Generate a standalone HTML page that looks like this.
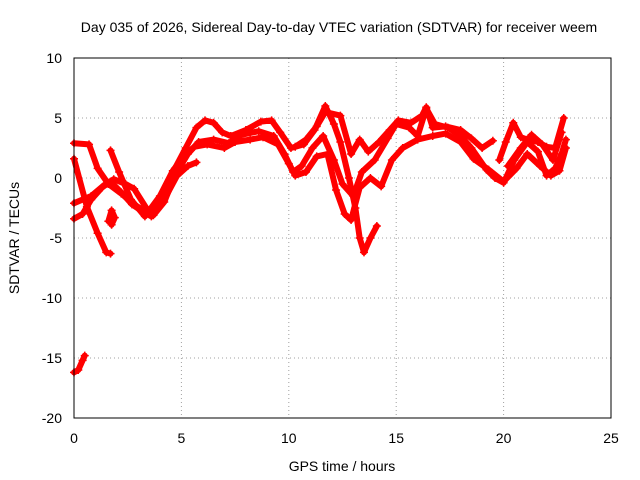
<!DOCTYPE html>
<html><head><meta charset="utf-8"><style>
body{margin:0;background:#fff}
svg{display:block;font-family:"Liberation Sans",sans-serif}
</style></head><body>
<svg id="chart" width="640" height="480">
<rect width="640" height="480" fill="#fff"/>
<text x="339" y="32" font-size="14" text-anchor="middle">Day 035 of 2026, Sidereal Day-to-day VTEC variation (SDTVAR) for receiver weem</text>
<text x="342" y="471" font-size="14" text-anchor="middle">GPS time / hours</text>
<text transform="translate(19,238) rotate(-90)" font-size="14" text-anchor="middle">SDTVAR / TECUs</text>
<g id="grid"></g><g id="ticks"></g><g id="marks"></g>
<rect x="74" y="58" width="537" height="360" fill="none" stroke="#000" stroke-width="1"/>
</svg>
<script>
const xTicks=[0,5,10,15,20,25];
const yTicks=[10,5,0,-5,-10,-15,-20];
const trace1=[[0,2.9],[0.7,2.8],[1.1,0.8],[1.6,-0.5],[2.2,-1.3],[2.8,-2.2],[3.5,-3.0],[4.2,-1.5],[4.7,0.8],[5.2,2.5],[5.7,4.2],[6.1,4.8],[6.5,4.6],[6.9,3.8],[7.3,3.5],[8.0,4.0],[8.7,4.7],[9.2,4.8],[9.6,3.8],[10.1,2.5],[10.7,2.8],[11.2,4.0],[11.7,6.0],[12.1,4.5],[12.4,3],[12.8,0],[13.1,-2.5],[13.3,-5],[13.5,-6.2],[13.8,-5],[14.1,-4]];
const trace2=[[0,1.6],[0.6,-2.4],[1.1,-4.6],[1.5,-6.2],[1.7,-6.3]];
const trace3=[[0,-2.1],[0.8,-1.5],[1.4,-0.6],[1.85,-0.1],[2.4,-0.5],[2.8,-0.9],[3.4,-2.6],[3.7,-3.1],[4.2,-2],[4.7,0.2],[5.3,2.0],[5.8,3.0],[6.5,3.2],[7.2,2.9],[7.8,3.6],[8.6,3.9],[9.3,3.5],[9.8,2],[10.2,0.5],[10.6,1],[11.1,2.5],[11.6,3.5],[12.1,1.5],[12.5,-0.5],[13,-1.5],[13.4,0.5],[14,1.5],[14.6,3.3],[15,4.5],[15.6,4.2],[16,3.5],[16.4,5.8],[16.8,4.5],[17.4,4.2],[18,3.5],[18.5,2.5],[19.2,0.7],[19.6,0],[20,-0.4],[20.5,1.5],[21.1,3.0],[21.6,2.2],[22,0.2],[22.4,0.8],[22.7,2],[22.9,3.2]];
const trace4=[[0,-3.4],[0.4,-3.0],[0.8,-1.8],[1.3,-0.8],[1.7,-0.3],[2.2,-1.2],[2.7,-2.2],[3.2,-2.8],[3.6,-3.2],[4.2,-1.8],[4.8,0.2],[5.3,1.0],[5.7,1.3]];
const trace5=[[1.7,2.3],[2.1,0.5],[2.65,-1.8],[3.3,-3.2],[4,-1.5],[4.6,0.6],[5.1,1.8],[5.6,2.6],[6.2,2.8],[7,2.5],[7.5,3.0],[8.2,3.2],[8.8,3.4],[9.5,2.8],[10,1.2],[10.3,0.2],[10.8,0.5],[11.3,1.8],[11.8,2],[12.2,-1],[12.6,-3],[12.9,-3.5],[13.3,-0.8],[13.8,0],[14.3,-0.7],[14.8,1.5],[15.3,2.5],[16,3.2],[16.7,3.5],[17.3,3.7],[18,3.0],[18.6,1.6],[19.3,0.7],[20,-0.3],[20.6,0.8],[21.1,2],[21.7,1.0],[22.2,0.2],[22.6,0.6],[22.9,2.5]];
const trace6=[[10.3,2.6],[10.8,3.2],[11.3,4.3],[11.7,5.5],[12.4,5.2],[12.9,2],[13.3,3.2],[13.7,2.2],[14.2,3],[14.7,4],[15.1,4.8],[15.7,4.6],[16.2,5.2],[16.4,5.9],[16.7,4.2],[17.3,4.3],[18,4],[18.5,3.3],[19,2.5],[19.5,3.1]];
const trace7=[[19.8,1.5],[20.1,3],[20.45,4.6],[20.8,3.4],[21.1,3.2],[21.6,3],[22,2.6],[22.4,2.5],[22.8,5]];
const trace8=[[20.2,1.0],[20.8,2.5],[21.3,3.6],[21.8,2.8],[22.3,1.5],[22.7,3.8]];
const trace9=[[0,-16.2],[0.2,-16],[0.4,-15.2],[0.5,-14.8]];
const trace10=[[1.6,-3.6],[1.75,-2.7],[1.9,-3.3],[1.75,-3.9]];
const traces=[trace1,trace2,trace3,trace4,trace5,trace6,trace7,trace8,trace9,trace10];
const NS="http://www.w3.org/2000/svg";
const X=v=>74+v*537/25, Y=v=>178-v*12;
const grid=document.getElementById('grid'),ticks=document.getElementById('ticks'),marks=document.getElementById('marks');
function mk(tag,attrs,parent){const e=document.createElementNS(NS,tag);for(const k in attrs)e.setAttribute(k,attrs[k]);parent.appendChild(e);return e;}
xTicks.forEach(t=>{
  if(t>0&&t<25){const g=mk('line',{x1:X(t),x2:X(t),y1:58,y2:418,stroke:'#a0a0a0','stroke-dasharray':'1,3'},grid);
  
  }
  const l=mk('text',{x:X(t),y:443,'font-size':14,'text-anchor':'middle'},ticks);l.textContent=t;
  
  
});
yTicks.forEach(t=>{
  if(t>-20&&t<10){const g=mk('line',{x1:74,x2:611,y1:Y(t),y2:Y(t),stroke:'#a0a0a0','stroke-dasharray':'1,3'},grid);
  
  }
  const l=mk('text',{x:62,y:Y(t)+5,'font-size':14,'text-anchor':'end'},ticks);l.textContent=t;
  
  
});
traces.forEach((tr,i)=>{
  const p=mk('polyline',{points:tr.map(d=>X(d[0])+','+Y(d[1])).join(' '),fill:'none',stroke:'#f00','stroke-width':6,'stroke-linejoin':'round','stroke-linecap':'round'},marks);
  
  
  tr.forEach(d=>{
    const m=mk('path',{d:`M${X(d[0])-4},${Y(d[1])}h8M${X(d[0])},${Y(d[1])-4}v8`,stroke:'#f00','stroke-width':1.5},marks);
    
    
  });
});
</script>
</body></html>
